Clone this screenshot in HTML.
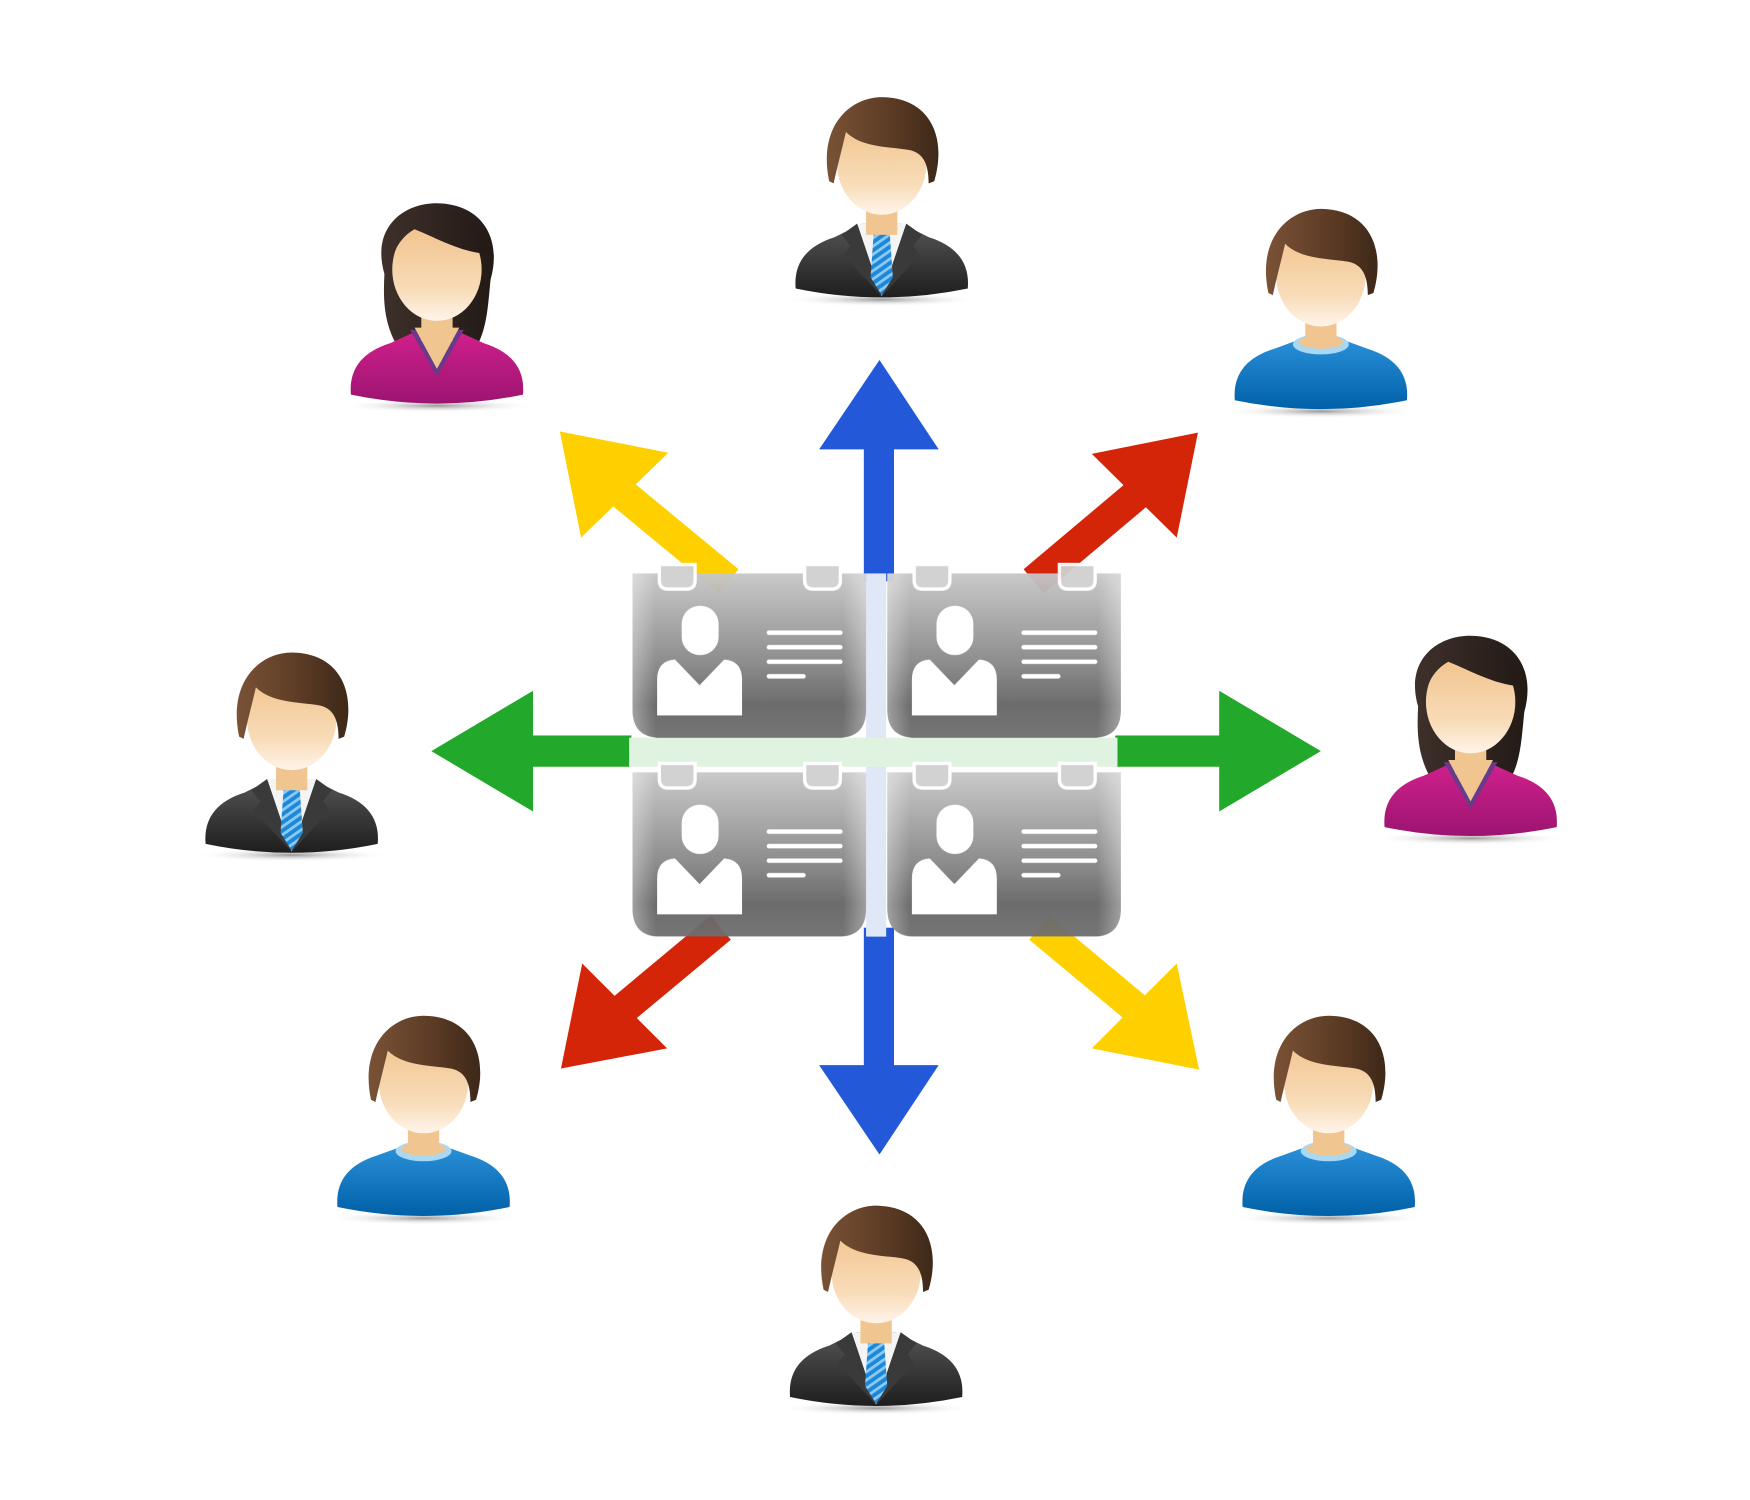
<!DOCTYPE html>
<html><head><meta charset="utf-8"><style>html,body{margin:0;padding:0;background:#fff;}svg{display:block}</style></head>
<body>
<svg width="1750" height="1500" viewBox="0 0 1566 1342" xmlns="http://www.w3.org/2000/svg">
<defs>
<linearGradient id="skin" x1="0" y1="0" x2="0" y2="1"><stop offset="0" stop-color="#f0c088"/><stop offset="0.7" stop-color="#f8dcb8"/><stop offset="1" stop-color="#fff4ea"/></linearGradient>
<linearGradient id="hair" x1="0" y1="0" x2="1" y2="0"><stop offset="0" stop-color="#7a5236"/><stop offset="0.6" stop-color="#5a3a24"/><stop offset="1" stop-color="#3e2818"/></linearGradient>
<linearGradient id="whair" x1="0" y1="0" x2="1" y2="0"><stop offset="0" stop-color="#3e302a"/><stop offset="1" stop-color="#231a16"/></linearGradient>
<linearGradient id="suit" x1="0" y1="0" x2="0" y2="1"><stop offset="0" stop-color="#555"/><stop offset="1" stop-color="#1e1e1e"/></linearGradient>
<linearGradient id="blue" x1="0" y1="0" x2="0" y2="1"><stop offset="0" stop-color="#2a90d8"/><stop offset="1" stop-color="#0060a8"/></linearGradient>
<linearGradient id="mag" x1="0" y1="0" x2="0" y2="1"><stop offset="0" stop-color="#d0208c"/><stop offset="1" stop-color="#9c1470"/></linearGradient>
<radialGradient id="shad"><stop offset="0" stop-color="#999"/><stop offset="1" stop-color="#fff" stop-opacity="0"/></radialGradient>
<linearGradient id="card" x1="0" y1="0" x2="0" y2="1"><stop offset="0" stop-color="#c8c8c8"/><stop offset="0.55" stop-color="#888"/><stop offset="0.8" stop-color="#666"/><stop offset="1" stop-color="#707070"/></linearGradient>
<linearGradient id="cardedge" x1="0" y1="0" x2="1" y2="0"><stop offset="0" stop-color="#fff" stop-opacity="0.35"/><stop offset="0.1" stop-color="#fff" stop-opacity="0"/><stop offset="0.9" stop-color="#fff" stop-opacity="0"/><stop offset="1" stop-color="#fff" stop-opacity="0.35"/></linearGradient>
<pattern id="stripe" width="6" height="6" patternUnits="userSpaceOnUse" patternTransform="rotate(-35)"><rect width="6" height="6" fill="#1e88d8"/><rect width="6" height="2.5" fill="#8ccaf4"/></pattern>

<g id="face">
  <rect x="-14" y="30" width="28" height="40" fill="#f0c590"/>
  <ellipse cx="0" cy="6" rx="40" ry="46" fill="url(#skin)"/>
</g>
<g id="mhair">
  <path d="M-47,22 C-58,-30 -25,-56 5,-53 C45,-50 58,-15 47,22 L42,24 C42,5 36,-4 24,-6 C6,-9 -18,-8 -32,-22 C-36,-5 -40,10 -43,24 Z" fill="url(#hair)"/>
</g>
<g id="suitman">
  <ellipse cx="0" cy="128" rx="88" ry="6" fill="url(#shad)"/>
  <path d="M-77,118 Q-80,84 -42,72 L-18,60 L18,60 L42,72 Q80,84 77,118 Q0,134 -77,118 Z" fill="url(#suit)"/>
  <path d="M-22,60 L22,60 L0,125 Z" fill="#f4f4f4"/>
  <path d="M-22,60 L-36,70 L-28,80 L-34,88 L0,125 Z M22,60 L36,70 L28,80 L34,88 L0,125 Z" fill="#3a3a3a"/>
  <path d="M-7,66 L7,66 L10,108 L0,124 L-10,108 Z" fill="url(#stripe)"/>
  <use href="#face"/>
  <use href="#mhair"/>
</g>
<g id="blueman">
  <ellipse cx="0" cy="128" rx="88" ry="6" fill="url(#shad)"/>
  <path d="M-77,118 Q-80,84 -42,72 L-20,64 L20,64 L42,72 Q80,84 77,118 Q0,134 -77,118 Z" fill="url(#blue)"/>
  <ellipse cx="0" cy="68" rx="25" ry="9" fill="#a8d8f4"/>
  <ellipse cx="0" cy="66" rx="20" ry="6" fill="#f0c590"/>
  <use href="#face"/>
  <use href="#mhair"/>
</g>
<g id="woman">
  <ellipse cx="0" cy="128" rx="88" ry="6" fill="url(#shad)"/>
  <path d="M-47,10 C-60,-35 -25,-56 5,-53 C42,-50 58,-20 48,15 C46,35 45,55 38,70 L-38,70 C-48,50 -48,30 -47,10 Z" fill="url(#whair)"/>
  <path d="M-77,118 Q-80,84 -42,72 L-20,62 L20,62 L42,72 Q80,84 77,118 Q0,134 -77,118 Z" fill="url(#mag)"/>
  <path d="M-24,60 L0,102 L24,60 Z" fill="#6a3a8a"/>
  <path d="M-20,58 L0,95 L20,58 Z" fill="#f0c590"/>
  <use href="#face"/>
  <path d="M-44,30 C-44,0 -38,-20 -20,-30 C0,-22 20,-10 44,-8 L44,-20 C30,-50 -10,-55 -30,-38 C-45,-20 -50,10 -44,30 Z" fill="url(#whair)"/>
</g>
<g id="card1">
  <path d="M0,0 H209 V122 Q209,147 184,147 H25 Q0,147 0,122 Z" fill="url(#card)"/>
  <path d="M0,0 H209 V122 Q209,147 184,147 H25 Q0,147 0,122 Z" fill="url(#cardedge)"/>
  <path d="M24,-8 H56 V6 Q56,14 48,14 H32 Q24,14 24,6 Z" fill="#d0d0d0" stroke="#fff" stroke-width="3"/>
  <path d="M154,-8 H186 V6 Q186,14 178,14 H162 Q154,14 154,6 Z" fill="#d0d0d0" stroke="#fff" stroke-width="3"/>
  <rect x="44" y="29" width="33" height="44" rx="16" fill="#fff"/>
  <path d="M22,127 V95 Q22,78 38,77 L60,100 L82,77 Q98,78 98,95 V127 Z" fill="#fff"/>
  <g stroke="#fff" stroke-width="4" stroke-linecap="round"><line x1="122" y1="53" x2="186" y2="53"/><line x1="122" y1="66" x2="186" y2="66"/><line x1="122" y1="79" x2="186" y2="79"/><line x1="122" y1="92" x2="153" y2="92"/></g>
</g>
</defs>

<use href="#suitman" x="789" y="140"/>
<use href="#woman" x="391" y="235"/>
<use href="#blueman" x="1182" y="240"/>
<use href="#suitman" x="261" y="637"/>
<use href="#woman" x="1316" y="622"/>
<use href="#blueman" x="379" y="962"/>
<use href="#blueman" x="1189" y="962"/>
<use href="#suitman" x="784" y="1132"/>

<g fill="#2358d8">
  <rect x="773" y="400" width="27" height="120"/>
  <polygon points="787,322 733,402 840,402"/>
  <rect x="773" y="830" width="27" height="125"/>
  <polygon points="733,953 840,953 787,1033"/>
</g>
<rect x="775" y="513" width="18" height="325" fill="#e0e8f8"/>
<g fill="#22a82a">
  <rect x="475" y="658" width="90" height="28"/>
  <polygon points="386,672 477,618 477,726"/>
  <rect x="998" y="658" width="95" height="28"/>
  <polygon points="1182,672 1091,618 1091,726"/>
</g>
<rect x="563" y="660" width="437" height="26" fill="#e0f2e0"/>
<g stroke-width="28">
  <line x1="652" y1="520" x2="555" y2="440" stroke="#ffd000"/>
  <line x1="925" y1="520" x2="1020" y2="440" stroke="#d42508"/>
  <line x1="645" y1="830" x2="555" y2="905" stroke="#d42508"/>
  <line x1="930" y1="830" x2="1020" y2="905" stroke="#ffd000"/>
</g>
<polygon points="501,386 598,405 520,481" fill="#ffd000"/>
<polygon points="1072,387 977,406 1053,481" fill="#d42508"/>
<polygon points="502,956 521,862 597,938" fill="#d42508"/>
<polygon points="1073,957 1053,862 977,938" fill="#ffd000"/>

<g opacity="0.96">
<use href="#card1" x="566" y="513"/>
<use href="#card1" x="794" y="513"/>
<use href="#card1" x="566" y="691"/>
<use href="#card1" x="794" y="691"/>
</g>
</svg>
</body></html>
